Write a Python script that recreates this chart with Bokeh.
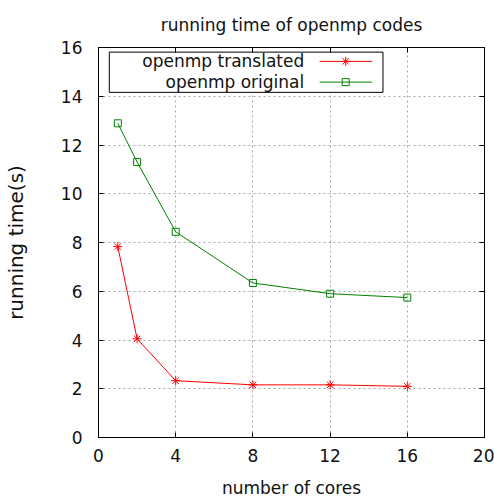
from bokeh.plotting import figure
from bokeh.models import Range1d, LinearAxis, FixedTicker, Label
from bokeh.embed import file_html
from bokeh.resources import INLINE

# ---- data ----
cores = [1, 2, 4, 8, 12, 16]
translated = [7.83, 4.05, 2.33, 2.16, 2.16, 2.10]
original = [12.89, 11.30, 8.44, 6.34, 5.90, 5.74]
x_ticks = [0, 4, 8, 12, 16, 20]
y_ticks = [0, 2, 4, 6, 8, 10, 12, 14, 16]
series_names = ["openmp translated", "openmp original"]
title_text = "running time of openmp codes"
x_label = "number of cores"
y_label = "running time(s)"

# ---- style ----
FONT = "DejaVu Sans"
FS = "17px"
TXT = "#111111"
RED = "#ff0000"
GREEN = "#008000"
GRID = "#a8a8a8"

p = figure(width=494, height=500, output_backend="svg", toolbar_location=None,
           x_range=Range1d(0, 20), y_range=Range1d(0, 16),
           min_border_left=92, min_border_right=10, min_border_top=46,
           min_border_bottom=63, title=title_text)

p.title.text_font = FONT
p.title.text_font_size = FS
p.title.text_font_style = "normal"
p.title.align = "center"
p.title.text_color = TXT
p.title.standoff = 25

p.outline_line_color = "black"
p.outline_line_width = 1
p.background_fill_color = "white"
p.border_fill_color = "white"

def style_axis(ax, ticks, show_labels=True):
    ax.ticker = FixedTicker(ticks=ticks)
    ax.major_tick_in = 5
    ax.major_tick_out = 0
    ax.minor_tick_line_color = None
    ax.axis_line_color = "black"
    ax.major_tick_line_color = "black"
    ax.major_label_text_font = FONT
    if show_labels:
        ax.major_label_text_font_size = FS
        ax.major_label_text_color = TXT
    else:
        # mirror axis: ticks only, labels not drawn
        ax.major_label_text_font_size = "1px"
        ax.major_label_text_color = None
        ax.major_label_standoff = 0
        ax.axis_label = None

style_axis(p.xaxis[0], x_ticks)
style_axis(p.yaxis[0], y_ticks)
p.xaxis.major_label_standoff = 11
p.yaxis.major_label_standoff = 16
p.xaxis.axis_label = x_label
p.yaxis.axis_label = y_label
for ax in (p.xaxis[0], p.yaxis[0]):
    ax.axis_label_text_font = FONT
    ax.axis_label_text_font_style = "normal"
    ax.axis_label_text_color = TXT
p.xaxis.axis_label_text_font_size = FS
p.yaxis.axis_label_text_font_size = "20px"
p.xaxis.axis_label_standoff = 13
p.yaxis.axis_label_standoff = 30

top_ax = LinearAxis()
style_axis(top_ax, x_ticks, show_labels=False)
p.add_layout(top_ax, "above")
right_ax = LinearAxis()
style_axis(right_ax, y_ticks, show_labels=False)
p.add_layout(right_ax, "right")

p.xgrid.ticker = FixedTicker(ticks=x_ticks[1:-1])
p.ygrid.ticker = FixedTicker(ticks=y_ticks[1:-1])
for g in (p.xgrid[0], p.ygrid[0]):
    g.grid_line_color = GRID
    g.grid_line_dash = "2 3"
    g.grid_line_width = 1

# ---- series ----
p.line(cores, translated, line_color=RED, line_width=1)
p.scatter(cores, translated, marker="asterisk", size=9, line_color=RED, line_width=1)
p.line(cores, original, line_color=GREEN, line_width=1)
p.scatter(cores, original, marker="square", size=7, fill_color=None,
          line_color=GREEN, line_width=1)

# ---- legend (gnuplot style: text right-aligned, sample on the right) ----
leg = dict(left=0.56, right=14.74, top=15.81, bottom=14.16,
           text_x=10.66, x0=11.46, x1=14.18, mx=12.81, rows=[15.43, 14.58])
p.quad(left=[leg["left"]], right=[leg["right"]], top=[leg["top"]],
       bottom=[leg["bottom"]], fill_color="white", line_color="black", line_width=1)
colors = [RED, GREEN]
markers = ["asterisk", "square"]
msizes = [9, 7]
for name, col, mk, ms, ry in zip(series_names, colors, markers, msizes, leg["rows"]):
    p.add_layout(Label(x=leg["text_x"], y=ry, text=name, text_align="right",
                       text_baseline="middle", text_font=FONT, text_font_size=FS,
                       text_color=TXT))
    p.segment(x0=[leg["x0"]], x1=[leg["x1"]], y0=[ry], y1=[ry], line_color=col, line_width=1)
    p.scatter([leg["mx"]], [ry], marker=mk, size=ms, fill_color=None, line_color=col)

open("out.html", "w").write(file_html(p, INLINE))
